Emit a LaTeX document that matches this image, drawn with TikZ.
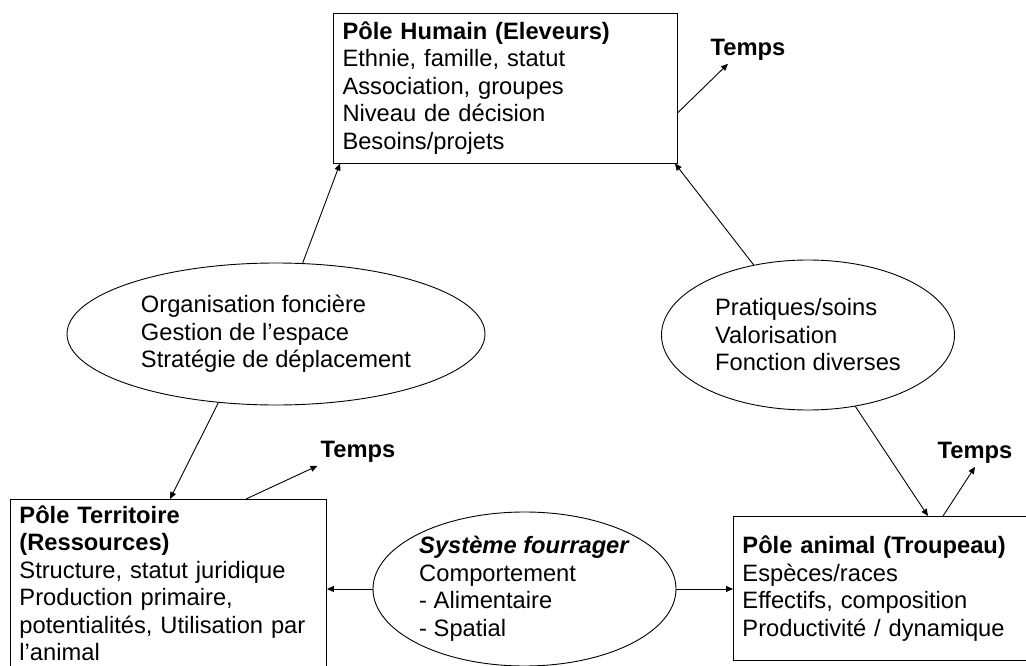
\documentclass[tikz,border=0pt]{standalone}
\usepackage{fontspec}
\setmainfont{Liberation Sans}
\usetikzlibrary{shapes.geometric,arrows.meta,calc}
\tikzset{
  pole/.style={draw, line width=0.9pt, align=left, inner xsep=9pt, inner ysep=6pt},
  lien/.style={draw, ellipse, line width=0.9pt, align=left, inner sep=0pt},
  temps/.style={font=\fontsize{23.7}{27.5}\selectfont\bfseries, inner sep=3pt},
  fleche/.style={line width=0.9pt, -{Triangle[length=7pt,width=6pt]}}
}
\begin{document}
\begin{tikzpicture}[x=1pt, y=-1pt, font=\fontsize{23.7}{27.5}\selectfont]
\useasboundingbox (0,0) rectangle (1026,666);
% les trois poles
\node[pole, text width=326pt, minimum height=150pt] (humain) at (505.5,88)
  {\textbf{Pôle Humain (Eleveurs)}\\Ethnie, famille, statut\\Association, groupes\\Niveau de décision\\Besoins/projets};
\node[pole, anchor=north west, text width=298pt] (territoire) at (10,499)
  {\textbf{Pôle Territoire}\\\textbf{(Ressources)}\\Structure, statut juridique\\Production primaire,\\potentialités, Utilisation par\\l’animal};
\node[pole, anchor=north west, text width=300pt, minimum height=144pt] (animal) at (733,516)
  {\textbf{Pôle animal (Troupeau)}\\Espèces/races\\Effectifs, composition\\Productivité / dynamique};
% les liens
\node[lien, minimum width=418pt, minimum height=142pt] (gestion) at (276,334)
  {Organisation foncière\\Gestion de l’espace\\Stratégie de déplacement};
\node[lien, minimum width=293pt, minimum height=150pt] (pratiques) at (808,335)
  {Pratiques/soins\\Valorisation\\Fonction diverses};
\node[lien, minimum width=303pt, minimum height=154pt] (fourrage) at (524.5,589)
  {\textbf{\textit{Système fourrager}}\\Comportement\\- Alimentaire\\- Spatial};
% le temps
\node[temps] (tempsH) at (748,50) {Temps};
\node[temps] (tempsT) at (358,452) {Temps};
\node[temps] (tempsA) at (975,453) {Temps};
\draw[fleche] (gestion) -- ($(humain.south west)+(7,0)$);
\draw[fleche] (pratiques) -- ($(humain.south east)+(-3,0)$);
\draw[fleche] (gestion.230) -- ($(territoire.north west)+(160,0)$);
\draw[fleche] (pratiques) -- ($(animal.north west)+(195,0)$);
\draw[fleche] (fourrage.west) -- (fourrage.west -| territoire.east);
\draw[fleche] (fourrage.east) -- (fourrage.east -| animal.west);
\draw[fleche] ($(humain.north east)+(0,100)$) -- ($(tempsH.south)+(-20,0)$);
\draw[fleche] ($(territoire.north west)+(236,0)$) -- (tempsT.south west);
\draw[fleche] ($(animal.north west)+(210,0)$) -- (tempsA.south);
\end{tikzpicture}
\end{document}
